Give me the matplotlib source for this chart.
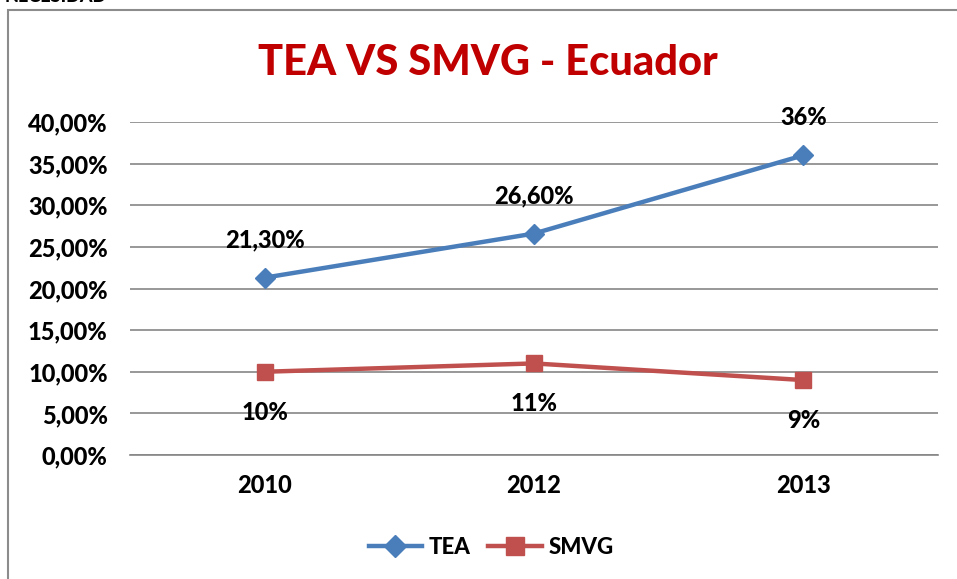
import matplotlib.pyplot as plt
from matplotlib.patches import Rectangle
from matplotlib.ticker import FuncFormatter

plt.rcParams['font.family'] = ['Lato', 'DejaVu Sans']
plt.rcParams['font.weight'] = 'black'

# data
years = ['2010', '2012', '2013']
tea = [0.213, 0.266, 0.36]
smvg = [0.10, 0.11, 0.09]
tea_labels = ['21,30%', '26,60%', '36%']
smvg_labels = ['10%', '11%', '9%']
yticks = [0, 0.05, 0.10, 0.15, 0.20, 0.25, 0.30, 0.35, 0.40]

fig = plt.figure(figsize=(9.57, 5.79), dpi=100)

# outer chart frame (cut off on the right and bottom in the reference)
fig.patches.append(Rectangle((8 / 957, -0.05), 1.2, 1 - 10 / 579 + 0.05,
                             transform=fig.transFigure, fill=False,
                             edgecolor='#8c8c8c', linewidth=1.5, clip_on=False))
# cut-off heading text above the chart
fig.text(0.005, 1 - 5 / 579, 'NECESIDAD', fontsize=13, va='bottom', ha='left',
         color='black')

ax = fig.add_axes([130 / 957, 1 - 455 / 579, (938 - 130) / 957, (455 - 122) / 579])
x = range(len(years))

ax.plot(x, tea, color='#4A7EBB', linewidth=3.2, marker='D', markersize=10,
        label='TEA')
ax.plot(x, smvg, color='#C0504D', linewidth=3.2, marker='s', markersize=11,
        label='SMVG')

for i, lab in enumerate(tea_labels):
    ax.annotate(lab, (i, tea[i]), xytext=(0, 27), textcoords='offset points',
                ha='center', va='center', fontsize=17, fontweight='black')
for i, lab in enumerate(smvg_labels):
    ax.annotate(lab, (i, smvg[i]), xytext=(0, -29), textcoords='offset points',
                ha='center', va='center', fontsize=17, fontweight='black')

ax.set_xlim(-0.5, len(years) - 0.5)
ax.set_ylim(0, 0.40)
ax.set_yticks(yticks)
ax.yaxis.set_major_formatter(FuncFormatter(
    lambda v, p: ('%.2f%%' % (v * 100)).replace('.', ',')))
ax.set_xticks(list(x))
ax.set_xticklabels(years)
ax.tick_params(axis='both', length=0, labelsize=17)
ax.tick_params(axis='y', pad=16)
ax.tick_params(axis='x', pad=14)
for t in ax.get_xticklabels() + ax.get_yticklabels():
    t.set_fontweight('black')

ax.grid(axis='y', color='#868686', linewidth=1.2)
ax.set_axisbelow(True)
for s in ['top', 'right', 'left']:
    ax.spines[s].set_visible(False)
ax.spines['bottom'].set_color('#868686')
ax.spines['bottom'].set_linewidth(1.2)

fig.text(488 / 957, 1 - 63 / 579, 'TEA VS SMVG - Ecuador', color='#C00000',
         fontsize=30, fontweight='black', ha='center', va='center')

leg = fig.legend(loc='center', bbox_to_anchor=(491 / 957, 1 - 547 / 579),
                 ncol=2, frameon=False, fontsize=16, handlelength=2.4,
                 columnspacing=0.8, handletextpad=0.3, markerscale=1.15)
for t in leg.get_texts():
    t.set_fontweight('black')

fig.savefig('out.png', dpi=100)
